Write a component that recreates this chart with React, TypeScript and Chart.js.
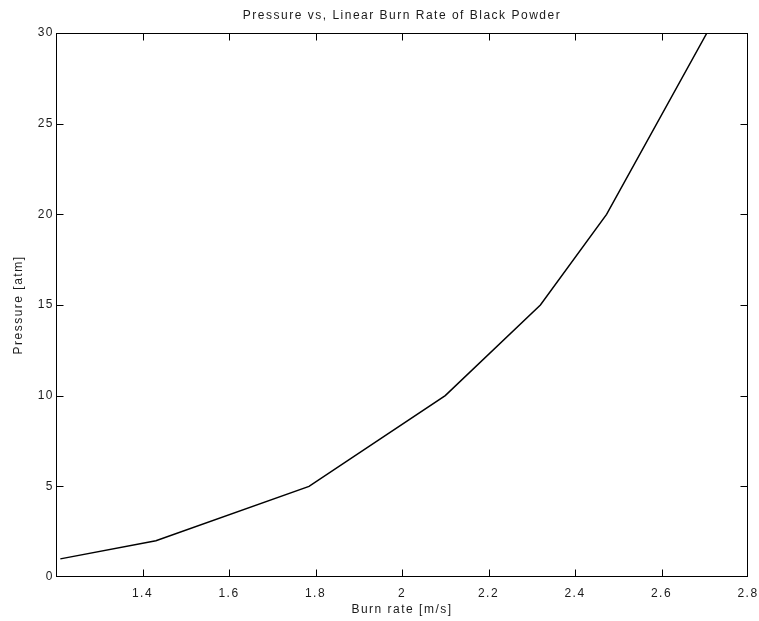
import React, { useEffect, useRef } from "react";
import { Chart, registerables } from "chart.js";

Chart.register(...registerables);

const burnRate = [1.21, 1.431, 1.785, 2.1, 2.32, 2.473, 2.705];
const pressure = [1, 2, 5, 10, 15, 20, 30];
const xTicks = [1.4, 1.6, 1.8, 2, 2.2, 2.4, 2.6, 2.8];
const yTicks = [0, 5, 10, 15, 20, 25, 30];
const titleText = "Pressure vs, Linear Burn Rate of Black Powder";
const xLabel = "Burn rate [m/s]";
const yLabel = "Pressure [atm]";

const FAMILY = "'Liberation Sans', Arial, Helvetica, sans-serif";
const TEXT_COLOR = "#1a1a1a";

const framePlugin = {
  id: "matlabFrame",
  beforeDraw(chart: any) {
    chart.ctx.letterSpacing = "1.5px";
  },
  afterDraw(chart: any) {
    const ctx = chart.ctx;
    const { left, right, top, bottom } = chart.chartArea;
    const l = Math.round(left) + 0.5;
    const r = Math.round(right) - 0.5;
    const t = Math.round(top) + 0.5;
    const b = Math.round(bottom) - 0.5;
    ctx.save();
    ctx.strokeStyle = "#000";
    ctx.lineWidth = 1;
    ctx.strokeRect(l, t, r - l, b - t);
    const xs = chart.scales.x;
    const ys = chart.scales.y;
    const tl = 7;
    ctx.beginPath();
    xTicks.forEach((v) => {
      const px = Math.min(Math.round(xs.getPixelForValue(v)) + 0.5, r);
      ctx.moveTo(px, b);
      ctx.lineTo(px, b - tl);
      ctx.moveTo(px, t);
      ctx.lineTo(px, t + tl);
    });
    yTicks.forEach((v) => {
      const py = Math.max(Math.min(Math.round(ys.getPixelForValue(v)) + 0.5, b), t);
      ctx.moveTo(l, py);
      ctx.lineTo(l + tl, py);
      ctx.moveTo(r, py);
      ctx.lineTo(r - tl, py);
    });
    ctx.stroke();
    ctx.restore();
    ctx.letterSpacing = "0px";
  },
};

export default function App() {
  const ref = useRef<HTMLCanvasElement | null>(null);

  useEffect(() => {
    if (!ref.current) return;
    const chart = new Chart(ref.current, {
      type: "line",
      data: {
        datasets: [
          {
            data: burnRate.map((x, i) => ({ x, y: pressure[i] })),
            borderColor: "#000",
            borderWidth: 1.5,
            pointRadius: 0,
            tension: 0,
            fill: false,
          },
        ],
      },
      options: {
        responsive: false,
        animation: false,
        layout: { padding: { top: 0, left: 0, right: 11, bottom: 0 } },
        plugins: {
          legend: { display: false },
          tooltip: { enabled: false },
          title: {
            display: true,
            text: titleText,
            fullSize: false,
            color: TEXT_COLOR,
            font: { family: FAMILY, size: 12, weight: "normal" },
            padding: { top: 8, bottom: 10.6 },
          },
        },
        scales: {
          x: {
            type: "linear",
            min: 1.2,
            max: 2.8,
            afterBuildTicks: (s: any) => {
              s.ticks = xTicks.map((v) => ({ value: v }));
            },
            afterFit: (s: any) => {
              s.height = 44;
              s.paddingLeft = 0;
              s.paddingRight = 0;
            },
            grid: { display: false, drawTicks: false },
            border: { display: false },
            ticks: {
              padding: 9,
              color: TEXT_COLOR,
              font: { family: FAMILY, size: 12 },
              maxRotation: 0,
              autoSkip: false,
              callback: (v: any) => String(v),
            },
            title: {
              display: true,
              text: xLabel,
              color: TEXT_COLOR,
              font: { family: FAMILY, size: 12 },
              padding: { top: 0, bottom: 4 },
            },
          },
          y: {
            type: "linear",
            min: 0,
            max: 30,
            afterBuildTicks: (s: any) => {
              s.ticks = yTicks.map((v) => ({ value: v }));
            },
            afterFit: (s: any) => {
              s.width = 56;
              s.paddingTop = 0;
              s.paddingBottom = 0;
            },
            grid: { display: false, drawTicks: false },
            border: { display: false },
            ticks: {
              padding: 2,
              color: TEXT_COLOR,
              font: { family: FAMILY, size: 12 },
              autoSkip: false,
              callback: (v: any) => String(v),
            },
            title: {
              display: true,
              text: yLabel,
              color: TEXT_COLOR,
              font: { family: FAMILY, size: 12 },
              padding: { top: 11, bottom: 0 },
            },
          },
        },
      },
      plugins: [framePlugin],
    });
    return () => chart.destroy();
  }, []);

  return (
    <div style={{ position: "absolute", left: 0, top: 0, width: 759, height: 621, background: "#fff" }}>
      <canvas ref={ref} width={759} height={621} />
    </div>
  );
}
